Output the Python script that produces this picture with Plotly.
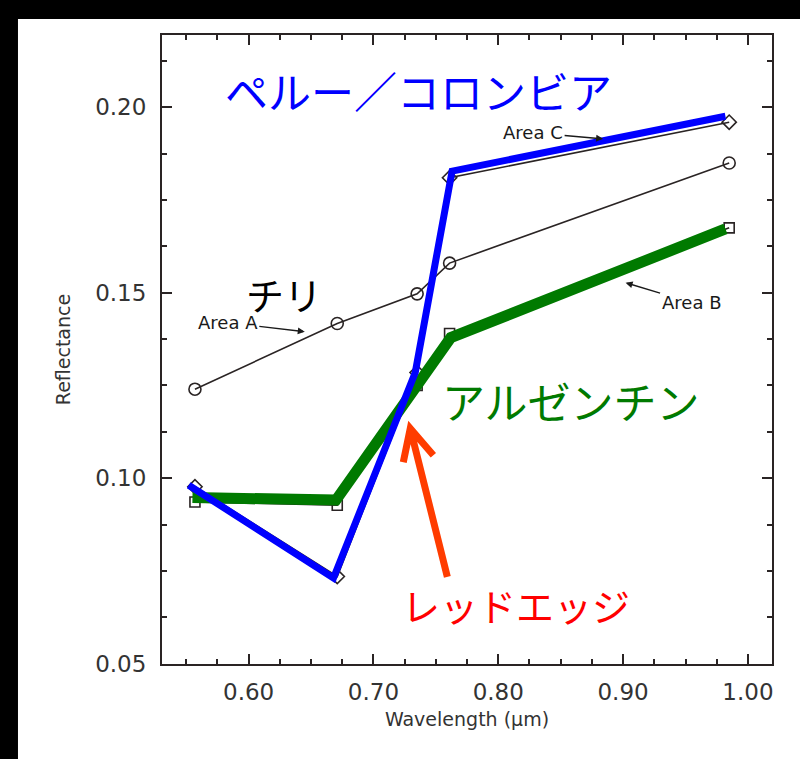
import plotly.graph_objects as go

# ---- data ----
wavelength = [0.557, 0.671, 0.735, 0.761, 0.985]
area_a = [0.124, 0.1417, 0.1497, 0.158, 0.185]
area_b = [0.0936, 0.0927, 0.125, 0.139, 0.1675]
area_c = [0.0977, 0.0735, 0.1285, 0.181, 0.196]

# hand-drawn overlay lines
peru_x = [0.552, 0.668, 0.7335, 0.763, 0.982]
peru_y = [0.0981, 0.0731, 0.1285, 0.1828, 0.1976]
arg_x = [0.555, 0.670, 0.762, 0.982]
arg_y = [0.0948, 0.0941, 0.1379, 0.1672]

x_ticks = [0.60, 0.70, 0.80, 0.90, 1.00]
y_ticks = [0.05, 0.10, 0.15, 0.20]

INK = "#2a2424"
TXT = "#333333"

fig = go.Figure()
fig.add_trace(go.Scatter(x=wavelength, y=area_a, mode="lines+markers",
                         line=dict(color=INK, width=1.6),
                         marker=dict(symbol="circle-open", size=12, color=INK, line=dict(width=1.6))))
fig.add_trace(go.Scatter(x=wavelength, y=area_b, mode="lines+markers",
                         line=dict(color=INK, width=1.6),
                         marker=dict(symbol="square-open", size=10, color=INK, line=dict(width=1.6))))
fig.add_trace(go.Scatter(x=wavelength, y=area_c, mode="lines+markers",
                         line=dict(color=INK, width=1.6),
                         marker=dict(symbol="diamond-open", size=11, color=INK, line=dict(width=1.6))))
fig.add_trace(go.Scatter(x=arg_x, y=arg_y, mode="lines",
                         line=dict(color="#007a00", width=11)))
fig.add_trace(go.Scatter(x=peru_x, y=peru_y, mode="lines",
                         line=dict(color="#0000ff", width=7)))

axis_common = dict(
    showline=True, linecolor=INK, linewidth=2, mirror="allticks",
    ticks="inside", ticklen=10, tickwidth=2, tickcolor=INK,
    showgrid=False, zeroline=False, tickformat=".2f",
    tickfont=dict(family="DejaVu Sans", size=23, color=TXT),
)

fig.update_xaxes(range=[0.5306, 1.0193], tickvals=x_ticks,
                 minor=dict(dtick=0.025, tick0=0.5, ticks="inside", ticklen=5, tickwidth=1.5, tickcolor=INK),
                 ticklabelstandoff=6,
                 title=dict(text="Wavelength (µm)", font=dict(family="DejaVu Sans", size=19, color=TXT), standoff=9),
                 **axis_common)
fig.update_yaxes(range=[0.0499, 0.2195], tickvals=y_ticks,
                 minor=dict(dtick=0.0125, tick0=0.05, ticks="inside", ticklen=5, tickwidth=1.5, tickcolor=INK),
                 ticklabelstandoff=9,
                 title=dict(text="Reflectance", font=dict(family="DejaVu Sans", size=19, color=TXT), standoff=20),
                 **axis_common)

JP = "Noto Sans CJK JP"
annos = [
    dict(text="ペルー／コロンビア", x=0.5797, y=0.2048, font=dict(family=JP, size=43, color="#0000ff")),
    dict(text="チリ", x=0.5965, y=0.1497, font=dict(family=JP, size=38, color="#000000")),
    dict(text="アルゼンチン", x=0.7535, y=0.121, font=dict(family=JP, size=43, color="#007a00")),
    dict(text="レッドエッジ", x=0.7215, y=0.0659, font=dict(family=JP, size=38, color="#ff0000")),
]
for a in annos:
    fig.add_annotation(xref="x", yref="y", showarrow=False, xanchor="left", yanchor="middle", **a)

small = dict(family="DejaVu Sans", size=18, color="#1a1a1a")
fig.add_annotation(xref="x", yref="y", x=0.645, y=0.1395, ax=-77, ay=-9, text="Area A",
                   showarrow=True, arrowhead=2, arrowsize=1, arrowwidth=1.4, arrowcolor="#1a1a1a", font=small)
fig.add_annotation(xref="x", yref="y", x=0.902, y=0.1527, ax=66, ay=20, text="Area B",
                   showarrow=True, arrowhead=2, arrowsize=1, arrowwidth=1.4, arrowcolor="#1a1a1a", font=small)
fig.add_annotation(xref="x", yref="y", x=0.884, y=0.1915, ax=-70, ay=-6, text="Area C",
                   showarrow=True, arrowhead=2, arrowsize=1, arrowwidth=1.4, arrowcolor="#1a1a1a", font=small)

# red-edge arrow: shaft plus open chevron head
fig.add_shape(type="path", xref="x", yref="y",
              path="M 0.7592,0.0734 L 0.7295,0.1134 M 0.7239,0.1043 L 0.7295,0.1134 L 0.7480,0.1062",
              line=dict(color="#ff3c00", width=7), layer="above")

# black frame bands (top and left)
fig.add_shape(type="rect", xref="paper", yref="paper", x0=-0.3, x1=1.1, y0=1.0254, y1=1.1,
              fillcolor="black", line_width=0, layer="above")
fig.add_shape(type="rect", xref="paper", yref="paper", x0=-0.3, x1=-0.2361, y0=-0.2, y1=1.1,
              fillcolor="black", line_width=0, layer="above")

fig.update_layout(
    width=800, height=759,
    margin=dict(l=162, r=28, t=35, b=95),
    paper_bgcolor="white", plot_bgcolor="white",
    showlegend=False,
)

fig.write_html("out.html", config={"displayModeBar": False},
               post_script="document.body.style.margin='0';document.body.style.overflow='hidden';")
